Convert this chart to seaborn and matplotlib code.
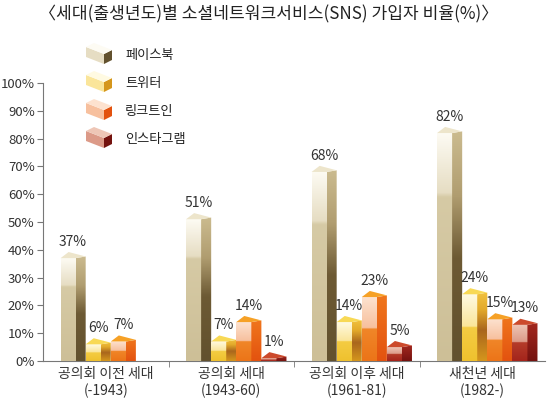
import numpy as np
import pandas as pd
import matplotlib
matplotlib.use('Agg')
import matplotlib.pyplot as plt
import seaborn as sns
from matplotlib.patches import Polygon
from matplotlib.colors import LinearSegmentedColormap

# 데이터
generations = ['공의회 이전 세대\n(-1943)', '공의회 세대\n(1943-60)',
               '공의회 이후 세대\n(1961-81)', '새천년 세대\n(1982-)']
services = ['페이스북', '트위터', '링크트인', '인스타그램']
facebook = [37, 51, 68, 82]
twitter = [6, 7, 14, 24]
linkedin = [7, 14, 23, 15]
instagram = [np.nan, 1, 5, 13]
y_ticks = [0, 10, 20, 30, 40, 50, 60, 70, 80, 90, 100]

df = pd.DataFrame({'세대': generations * 4,
                   '서비스': np.repeat(services, 4),
                   '비율': facebook + twitter + linkedin + instagram}).dropna()

# 면별 색 (아래 -> 위)
front_cols = {
    '페이스북': [(0, '#cdbf97'), (0.72, '#d6caa5'), (0.74, '#e6ddc3'), (1, '#fdfbf3')],
    '트위터': [(0, '#efc12e'), (0.5, '#f4cc43'), (0.52, '#fae59a'), (1, '#fffae2')],
    '링크트인': [(0, '#ec7418'), (0.5, '#f08628'), (0.52, '#f7c09e'), (1, '#fde2cf')],
    '인스타그램': [(0, '#a4241b'), (0.5, '#b43c2a'), (0.52, '#dc9a88'), (1, '#eec6b6')],
}
side_cols = {
    '페이스북': [(0, '#62512e'), (0.45, '#6d5a34'), (0.72, '#b09d70'), (1, '#cbbb8f')],
    '트위터': [(0, '#d5961c'), (0.45, '#a9661d'), (0.75, '#e3aa2b'), (1, '#f1c23f')],
    '링크트인': [(0, '#e3520f'), (1, '#f0761d')],
    '인스타그램': [(0, '#74120f'), (1, '#a3281f')],
}
top_cols = {'페이스북': '#ede5cb', '트위터': '#f8d955', '링크트인': '#f6a126', '인스타그램': '#cc4a2c'}


def shade(ax, verts, stops, clip=None):
    poly = Polygon(verts, closed=True, facecolor='none', edgecolor='none')
    ax.add_patch(poly)
    xs = [v[0] for v in verts]
    ys = [v[1] for v in verts]
    cmap = LinearSegmentedColormap.from_list('g', stops)
    grad = np.linspace(0, 1, 256).reshape(-1, 1)
    im = ax.imshow(grad, cmap=cmap, origin='lower', aspect='auto', zorder=3,
                   extent=[min(xs), max(xs), min(ys), max(ys)])
    im.set_clip_path(clip if clip is not None else poly)


plt.rcParams['font.family'] = ['Noto Sans CJK KR', 'DejaVu Sans']
fig = plt.figure(figsize=(5.5, 3.99), dpi=100)
ax = fig.add_axes([43 / 550, 38 / 399, 502 / 550, 278 / 399])

sns.barplot(data=df, x='세대', y='비율', hue='서비스', order=generations,
            hue_order=services, width=0.8, gap=0.4, legend=False,
            palette=['#d6caa5', '#f4cc43', '#f08628', '#b43c2a'], ax=ax)

d = 0.08
for serv, cont in zip(services, ax.containers):
    for bar in cont.patches:
        x0 = bar.get_x()
        w = bar.get_width()
        h = bar.get_height()
        x1 = x0 + w
        bar.set_facecolor('none')
        bar.set_edgecolor('none')
        shade(ax, [(x0, 0), (x1, 0), (x1, h), (x0, h)], front_cols[serv], clip=bar)
        shade(ax, [(x1, 0), (x1 + d, 0), (x1 + d, h + 0.6), (x1, h)], side_cols[serv])
        ax.add_patch(Polygon([(x0, h), (x1, h), (x1 + d, h + 0.6), (x0 + d * 0.8, h + 2.2)],
                             closed=True, facecolor=top_cols[serv], edgecolor='none', zorder=4))
        ax.text(x0 + (w + d) / 2, h + 3.4, f'{h:.0f}%', ha='center', va='bottom',
                fontsize=10, color='#333333')

ax.set_xlim(-0.5, 3.5)
ax.set_ylim(0, 100)
ax.set_yticks(y_ticks)
ax.set_yticklabels([f'{t}%' for t in y_ticks], fontsize=9.5, color='#333333')
ax.set_xticks(range(4))
ax.set_xticklabels(generations, fontsize=10, color='#333333', linespacing=1.3)
ax.set_xticks([0.5, 1.5, 2.5], minor=True)
ax.tick_params(axis='x', which='major', length=0, pad=4)
ax.tick_params(axis='x', which='minor', length=4, color='#777777')
ax.tick_params(axis='y', length=4, color='#777777', pad=2)
ax.set_xlabel('')
ax.set_ylabel('')
for side in ['top', 'right']:
    ax.spines[side].set_visible(False)
ax.spines['left'].set_color('#777777')
ax.spines['bottom'].set_color('#777777')
ax.spines['left'].set_linewidth(0.8)
ax.spines['bottom'].set_linewidth(0.8)

fig.text(0.488, 0.965, '〈세대(출생년도)별 소셜네트워크서비스(SNS) 가입자 비율(%)〉',
         ha='center', va='center', fontsize=12.3, color='#222222')

# 범례 (픽셀 좌표 오버레이)
lg = fig.add_axes([0, 0, 1, 1], facecolor='none')
lg.set_xlim(0, 550)
lg.set_ylim(399, 0)
lg.axis('off')
for i, serv in enumerate(services):
    cy = 53 + i * 28
    long_face = [(86, cy - 6), (104, cy + 1), (104, cy + 11), (86, cy + 4)]
    end_face = [(104, cy + 1), (112, cy - 3), (112, cy + 7), (104, cy + 11)]
    top_face = [(86, cy - 6), (94, cy - 10), (112, cy - 3), (104, cy + 1)]
    lg.add_patch(Polygon(long_face, closed=True, facecolor=front_cols[serv][-2][1], edgecolor='none'))
    lg.add_patch(Polygon(end_face, closed=True, facecolor=side_cols[serv][0][1], edgecolor='none'))
    lg.add_patch(Polygon(top_face, closed=True, facecolor=front_cols[serv][-1][1], edgecolor='none'))
    lg.text(125, cy + 2, serv, fontsize=9.5, va='center', ha='left', color='#222222')

fig.savefig('out.png', dpi=100)
